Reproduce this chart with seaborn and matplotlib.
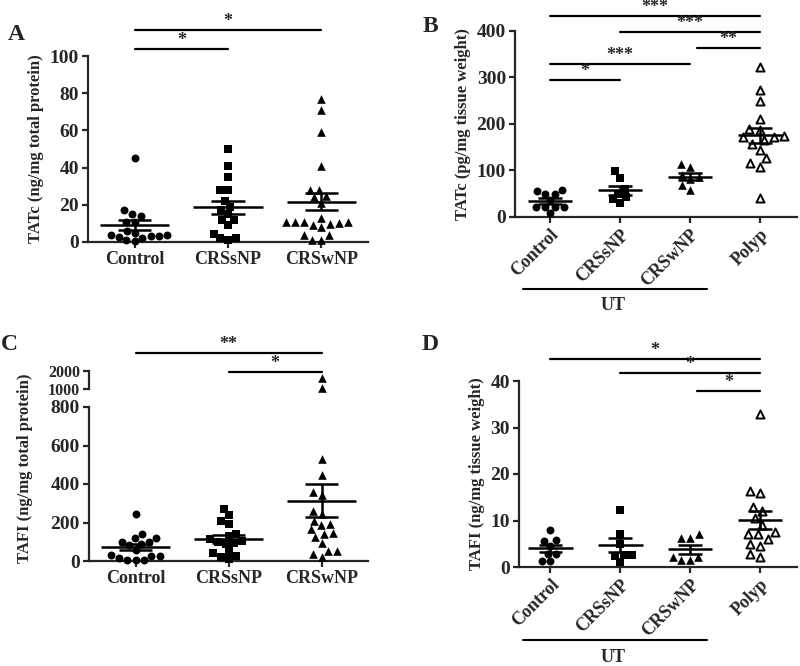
import numpy as np
import matplotlib.pyplot as plt
import seaborn as sns

# ---- data ----
groups3 = ["Control", "CRSsNP", "CRSwNP"]
groups4 = ["Control", "CRSsNP", "CRSwNP", "Polyp"]

# A: TATc (ng/mg total protein)
a_control = [45, 17, 15, 14, 11, 11, 6, 5, 4, 3.5, 3, 3, 2.5, 2, 1, 0.5]
a_crssnp = [50, 41, 35, 28, 28, 22, 19, 17, 15, 12, 12, 9, 4.5, 2, 2, 1]
a_crswnp = [77, 71, 59, 41, 28, 28, 25, 24, 21, 13, 11, 11, 10, 9, 8, 9.5,
            11, 11, 3.5, 3.5, 1.3, 1.3]

# B: TATc (pg/mg tissue weight)
b_control = [59, 50, 50, 55, 21, 21, 21, 21, 8, 37]
b_crssnp = [98, 84, 60, 50, 42, 38, 30]
b_crswnp = [113, 107, 90, 82, 86, 59, 68]
b_polyp = [323, 274, 250, 210, 187, 189, 171, 174, 171, 158, 165, 145, 117,
           108, 126, 40]

# C: TAFI (ng/mg total protein)
c_control = [245, 141, 118, 118, 100, 88, 83, 100, 56, 33, 26, 7, 3.5, 7,
             17.6, 24]
c_crssnp = [270, 237, 210, 190, 140, 130, 115, 105, 100, 95, 90, 52, 26, 22,
            9, 40]
c_crswnp = [1630, 1050, 530, 445, 360, 343, 260, 246, 208, 190, 185, 164,
            147, 142, 125, 92, 52, 50, 35, 21]

# D: TAFI (ng/mg tissue weight)
d_control = [7.9, 5.5, 5.8, 4.5, 2.9, 2.9, 1.3, 1.3]
d_crssnp = [12.3, 7.2, 5.0, 2.3, 2.5, 2.5, 1.0]
d_crswnp = [6.3, 6.3, 7.0, 2.2, 1.4, 1.4, 2.2]
d_polyp = [33, 16, 16.3, 13, 12, 10.5, 9, 7.2, 7.5, 7, 6, 5, 4.5, 2.2, 2.8]

# ---- style ----
sns.set_theme(style="ticks")
plt.rcParams['font.family'] = ['Liberation Serif', 'DejaVu Serif']
plt.rcParams['font.weight'] = 'bold'
plt.rcParams['axes.labelweight'] = 'bold'

# marker style per group: (marker, face colour, size)
mstyle = {"Control": ("o", "black", 5.7),
          "CRSsNP": ("s", "black", 5.6),
          "CRSwNP": ("^", "black", 6.2),
          "Polyp": ("^", "white", 5.8)}

fig = plt.figure(figsize=(8, 6.66), dpi=100)
W, H = 800, 666


def px_axes(left, right, top, bottom):
    return fig.add_axes([left / W, 1 - bottom / H, (right - left) / W, (bottom - top) / H])


def swarm(ax, groups, values, ymax=None, ymin=None):
    for g, v in zip(groups, values):
        v = np.asarray(v, dtype=float)
        if ymax is not None:
            v = v[v <= ymax]
        if ymin is not None:
            v = v[v > ymin]
        if len(v) == 0:
            continue
        mk, fc, sz = mstyle[g]
        lw = 1.4 if fc == "white" else 0
        sns.swarmplot(x=[g] * len(v), y=v, order=groups, marker=mk, color=fc,
                      edgecolor="black", linewidth=lw, size=sz, ax=ax,
                      warn_thresh=1, zorder=3)
    for c in ax.collections:
        c.set_clip_on(False)


def mean_sem(ax, values, wm, ws):
    for i, v in enumerate(values):
        v = np.asarray(v, dtype=float)
        m = v.mean()
        s = v.std(ddof=1) / np.sqrt(len(v))
        ax.hlines(m, i - wm, i + wm, color="black", lw=1.8, zorder=4)
        ax.hlines([m - s, m + s], i - ws, i + ws, color="black", lw=1.8, zorder=4)
        ax.vlines(i, m - s, m + s, color="black", lw=1.8, zorder=4)


def sig(ax, x0, x1, y, txt):
    ax.plot([x0, x1], [y, y], color="black", lw=1.6, clip_on=False)
    ax.text((x0 + x1) / 2, y, txt, ha="center", va="bottom", fontsize=13,
            fontweight="bold", clip_on=False)


def style_axes(ax, size=14):
    sns.despine(ax=ax)
    for sp in ["left", "bottom"]:
        ax.spines[sp].set_linewidth(1.6)
    ax.tick_params(axis="both", width=1.6, length=4.5, labelsize=size, pad=2)
    for lab in ax.get_xticklabels() + ax.get_yticklabels():
        lab.set_fontweight("bold")


# ---- Panel A ----
axA = px_axes(88, 368, 56, 242)
valsA = [a_control, a_crssnp, a_crswnp]
swarm(axA, groups3, valsA)
mean_sem(axA, valsA, 0.37, 0.18)
axA.set_xlim(-0.5, 2.5)
axA.set_ylim(0, 100)
axA.set_yticks([0, 20, 40, 60, 80, 100])
axA.set_xticks(range(3))
axA.set_xticklabels(groups3, fontsize=13)
axA.set_ylabel("TATc (ng/mg total protein)", fontsize=12)
style_axes(axA)
axA.tick_params(axis="x", labelsize=13)
sig(axA, 0, 2, 114, "*")
sig(axA, 0, 1, 104, "*")

# ---- Panel B ----
axB = px_axes(515, 797, 31, 217)
valsB = [b_control, b_crssnp, b_crswnp, b_polyp]
swarm(axB, groups4, valsB)
mean_sem(axB, valsB, 0.32, 0.17)
axB.set_xlim(-0.5, 3.53)
axB.set_ylim(0, 400)
axB.set_yticks([0, 100, 200, 300, 400])
axB.set_xticks(range(4))
axB.set_xticklabels(groups4, rotation=45, ha="right", rotation_mode="anchor",
                    fontsize=13)
axB.set_ylabel("TATc (pg/mg tissue weight)", fontsize=12)
style_axes(axB)
axB.tick_params(axis="x", labelsize=13)
sig(axB, 0, 3, 432, "***")
sig(axB, 1, 3, 398, "***")
sig(axB, 2.1, 3, 363, "**")
sig(axB, 0, 2, 329, "***")
sig(axB, 0, 1, 295, "*")
axB.plot([-0.39, 2.24], [-155, -155], color="black", lw=1.5, clip_on=False)
axB.text(0.9, -190, "UT", ha="center", va="center", fontsize=13,
         fontweight="bold", clip_on=False)

# ---- Panel C (broken axis) ----
axC = px_axes(89, 368, 407, 561)
axC2 = px_axes(89, 368, 371, 389)
valsC = [c_control, c_crssnp, c_crswnp]
swarm(axC, groups3, valsC, ymax=800)
swarm(axC2, groups3, valsC, ymin=800)
mean_sem(axC, valsC, 0.37, 0.18)
axC.set_xlim(-0.5, 2.5)
axC.set_ylim(0, 800)
axC.set_yticks([0, 200, 400, 600, 800])
axC.set_xticks(range(3))
axC.set_xticklabels(groups3, fontsize=13)
axC.set_ylabel("TAFI (ng/mg total protein)", fontsize=12)
axC.yaxis.set_label_coords(-0.2, 0.6)
style_axes(axC)
axC.tick_params(axis="x", labelsize=13)
axC2.set_xlim(-0.5, 2.5)
axC2.set_ylim(1000, 2000)
axC2.set_yticks([1000, 2000])
axC2.set_xticks([])
axC2.set_xlabel("")
axC2.set_ylabel("")
style_axes(axC2, size=11.5)
axC2.spines["bottom"].set_visible(False)
axC2.patch.set_alpha(0)
sig(axC, 0, 2, 1080, "**")
sig(axC, 1, 2, 982, "*")

# ---- Panel D ----
axD = px_axes(519, 797, 381, 567)
valsD = [d_control, d_crssnp, d_crswnp, d_polyp]
swarm(axD, groups4, valsD)
mean_sem(axD, valsD, 0.32, 0.17)
axD.set_xlim(-0.45, 3.53)
axD.set_ylim(0, 40)
axD.set_yticks([0, 10, 20, 30, 40])
axD.set_xticks(range(4))
axD.set_xticklabels(groups4, rotation=45, ha="right", rotation_mode="anchor",
                    fontsize=13)
axD.set_ylabel("TAFI (ng/mg tissue weight)", fontsize=12)
style_axes(axD)
axD.tick_params(axis="x", labelsize=13)
sig(axD, 0, 3, 44.7, "*")
sig(axD, 1, 3, 41.7, "*")
sig(axD, 2.1, 3, 37.8, "*")
axD.plot([-0.39, 2.24], [-15.7, -15.7], color="black", lw=1.5, clip_on=False)
axD.text(0.9, -19.4, "UT", ha="center", va="center", fontsize=13,
         fontweight="bold", clip_on=False)

# panel letters
for lab, x, y in [("A", 16, 34), ("B", 430, 26), ("C", 9, 344), ("D", 430, 345)]:
    fig.text(x / W, 1 - y / H, lab, fontsize=17, fontweight="bold",
             ha="center", va="center")

fig.savefig("out.png", dpi=100)
